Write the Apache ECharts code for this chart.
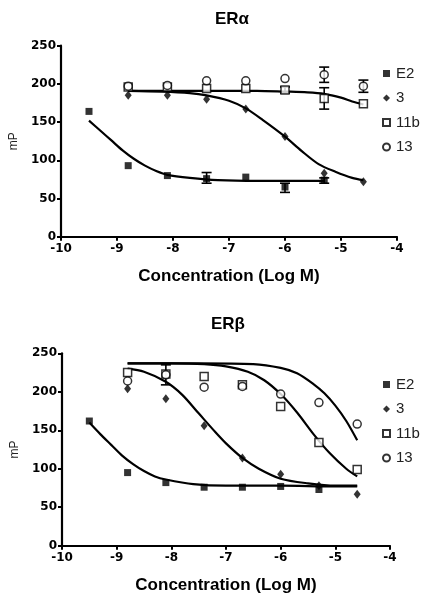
<!DOCTYPE html>
<html><head><meta charset="utf-8">
<script src="https://cdn.jsdelivr.net/npm/echarts@6/dist/echarts.min.js"></script>
<style>html,body{margin:0;padding:0;background:#fff}#c{width:434px;height:600px}</style>
</head><body><div id="c"></div>
<script>
// ---------- data ----------
var logConc = [-9.5, -8.8, -8.1, -7.4, -6.7, -6.0, -5.3, -4.6];
var legendNames = ['E2', '3', '11b', '13'];
var yTicks = [0, 50, 100, 150, 200, 250];
var xTicks = [-10, -9, -8, -7, -6, -5, -4];

// ER alpha measured points (null = not measured)
var a_E2  = [164, 93, 80, 76, 78, 65, 74, null];
var a_3   = [null, 185, 185, 180, 167, 131, 83, 72];
var a_11b = [null, 196, 196, 194, 194, 192, 181, 174];
var a_13  = [null, 197, 198, 204, 204, 207, 212, 197];
// ER alpha error bars [x, low, high]
var a_err = [[-7.4, 70, 84], [-6.0, 58, 70], [-5.3, 70, 77], [-5.3, 167, 195], [-5.3, 202, 222], [-4.6, 189, 205], [-6.0, 188, 196]];
// ER alpha fitted curves
var a_fitE2  = [[-9.5,152],[-9.3,139],[-9.1,126],[-8.9,113],[-8.7,102],[-8.5,93],[-8.3,86],[-8.1,81],[-7.7,77],[-7.2,74],[-6.5,73],[-5.8,73],[-5.3,73]];
var a_fit3   = [[-8.8,191],[-8.2,190],[-7.7,188],[-7.4,185],[-7.0,178],[-6.7,168],[-6.4,153],[-6.0,131],[-5.7,112],[-5.4,95],[-5.1,85],[-4.8,77],[-4.6,74]];
var a_fit11b = [[-8.8,191],[-7.5,191],[-6.5,191],[-6.0,190],[-5.6,189],[-5.3,187],[-5.0,182],[-4.8,177],[-4.6,173]];

// ER beta measured points
var b_E2  = [162, 95, 82, 76, 76, 77, 73, null];
var b_3   = [null, 204, 191, 156, 114, 93, 78, 67];
var b_11b = [null, 225, 223, 220, 209, 181, 134, 99];
var b_13  = [null, 214, 222, 206, 207, 197, 186, 158];
var b_err = [[-8.1, 209, 235]];
// ER beta fitted curves
var b_fitE2  = [[-9.5,160],[-9.3,145],[-9.1,131],[-8.9,117],[-8.7,106],[-8.5,97],[-8.3,90],[-8.1,86],[-7.6,80],[-7.0,78],[-6.0,78],[-5.0,77],[-4.6,77]];
var b_fit3   = [[-8.8,230],[-8.5,226],[-8.1,213],[-7.8,196],[-7.5,172],[-7.2,148],[-7.0,133],[-6.7,114],[-6.4,100],[-6.0,87],[-5.5,81],[-5.0,78],[-4.6,78]];
var b_fit11b = [[-8.8,237],[-8.0,237],[-7.4,236],[-7.0,233],[-6.6,226],[-6.3,215],[-6.0,197],[-5.7,173],[-5.4,145],[-5.1,120],[-4.8,100],[-4.6,90]];
var b_fit13  = [[-8.8,237],[-7.5,237],[-6.5,236],[-6.0,231],[-5.7,224],[-5.4,210],[-5.2,198],[-5.0,182],[-4.8,162],[-4.6,137]];

// ---------- helpers ----------
function pts(arr){ var o=[]; for(var i=0;i<arr.length;i++){ if(arr[i]!==null) o.push([logConc[i],arr[i]]); } return o; }
var black = '#000';
var tickFont = {fontFamily:'DejaVu Sans', fontWeight:'bold', fontSize:12, color:'#000'};
var styles = {
  'E2': {symbol:'rect', symbolSize:7, itemStyle:{color:black}},
  '3': {symbol:'diamond', symbolSize:[7,9], itemStyle:{color:black}},
  '11b': {symbol:'rect', symbolSize:8, itemStyle:{color:'#fff', borderColor:black, borderWidth:1.5}},
  '13': {symbol:'circle', symbolSize:8, itemStyle:{color:'#fff', borderColor:black, borderWidth:1.5}}
};
function xAxis(gi){
  return {type:'value', gridIndex:gi, min:-10, max:-4, interval:1,
    axisLine:{lineStyle:{color:black, width:2.2}}, axisTick:{length:4, lineStyle:{width:2, color:black}},
    axisLabel:Object.assign({margin:6}, tickFont), splitLine:{show:false},
    name:'Concentration (Log M)', nameLocation:'middle', nameGap:31,
    nameTextStyle:{fontFamily:'Liberation Sans', fontWeight:'bold', fontSize:17, color:'#000'}};
}
function yAxis(gi){
  return {type:'value', gridIndex:gi, min:0, max:250, interval:50,
    axisLine:{show:true, lineStyle:{color:black, width:2.2}}, axisTick:{show:true, length:4, lineStyle:{width:2, color:black}},
    axisLabel:Object.assign({margin:5}, tickFont), splitLine:{show:false},
    name:'mP', nameLocation:'middle', nameGap:41, nameRotate:90,
    nameTextStyle:{fontFamily:'Liberation Sans', fontSize:12, color:'#222'}};
}
function scatter(name, data, gi){
  var s = styles[name];
  return {type:'scatter', name:name, xAxisIndex:gi, yAxisIndex:gi, data:pts(data),
    symbol:s.symbol, symbolSize:s.symbolSize, itemStyle:s.itemStyle, z:5};
}
function curve(data, gi){
  return {type:'line', name:'fit', xAxisIndex:gi, yAxisIndex:gi, data:data, smooth:0.3,
    showSymbol:false, lineStyle:{color:black, width:2.2}, z:3, silent:true};
}
function errBars(data, gi){
  return {type:'custom', xAxisIndex:gi, yAxisIndex:gi, data:data, z:4, silent:true,
    renderItem:function(p, api){
      var lo = api.coord([api.value(0), api.value(1)]);
      var hi = api.coord([api.value(0), api.value(2)]);
      var w = 5;
      var st = {stroke:black, lineWidth:1.6};
      return {type:'group', children:[
        {type:'line', shape:{x1:lo[0], y1:lo[1], x2:hi[0], y2:hi[1]}, style:st},
        {type:'line', shape:{x1:lo[0]-w, y1:lo[1], x2:lo[0]+w, y2:lo[1]}, style:st},
        {type:'line', shape:{x1:hi[0]-w, y1:hi[1], x2:hi[0]+w, y2:hi[1]}, style:st}
      ]};
    },
    encode:{x:0, y:[1,2]}};
}
function legend(top, idx){
  return {orient:'vertical', left:377, top:top, itemGap:9.5, itemWidth:7, itemHeight:7,
    data:legendNames.map(function(n){ return {name:n}; }),
    textStyle:{fontFamily:'Liberation Sans', fontSize:15, color:'#222', padding:[0,0,0,1]},
    selectedMode:false};
}

var chart = echarts.init(document.getElementById('c'), null, {renderer:'canvas'});
chart.setOption({
  animation:false,
  backgroundColor:'#fff',
  title:[
    {text:'ERα', left:227, top:6, textAlign:'center', textStyle:{fontFamily:'Liberation Sans', fontWeight:'bold', fontSize:17, color:'#000'}},
    {text:'ERβ', left:223, top:311, textAlign:'center', textStyle:{fontFamily:'Liberation Sans', fontWeight:'bold', fontSize:17, color:'#000'}}
  ],
  legend:[legend(61), legend(372)],
  grid:[
    {left:60, right:37, top:45.7, height:191},
    {left:62, right:44, top:353.3, height:192.4}
  ],
  xAxis:[xAxis(0), xAxis(1)],
  yAxis:[yAxis(0), yAxis(1)],
  series:[
    curve(a_fitE2,0), curve(a_fit3,0), curve(a_fit11b,0),
    errBars(a_err,0),
    scatter('E2',a_E2,0), scatter('3',a_3,0), scatter('11b',a_11b,0), scatter('13',a_13,0),
    curve(b_fitE2,1), curve(b_fit3,1), curve(b_fit11b,1), curve(b_fit13,1),
    errBars(b_err,1),
    scatter('E2',b_E2,1), scatter('3',b_3,1), scatter('11b',b_11b,1), scatter('13',b_13,1)
  ]
});
</script></body></html>
